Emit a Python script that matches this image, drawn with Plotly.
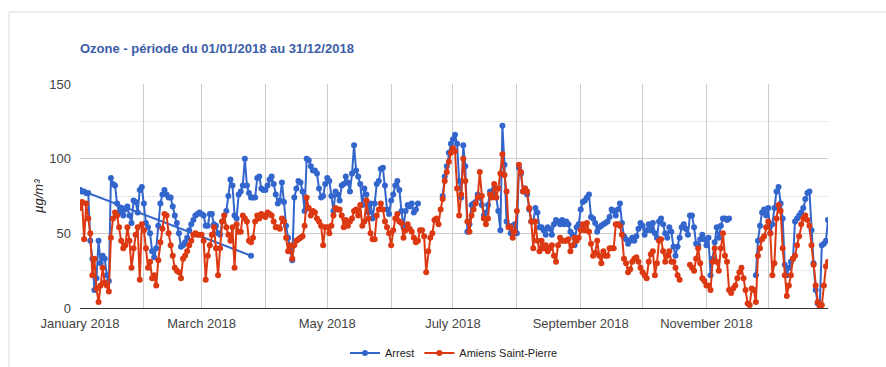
import pandas as pd
import plotly.graph_objects as go

# Daily ozone concentrations (µg/m³), 2018, one list per month
arrest_jan = [79, 78, 78, 77, 77, 45, 33, 12, 20, 45, 30, 35, 33, 22, 18, 87, 83, 82, 70, 64,
              67, 62, 66, 68, 62, 57, 72, 71, 64, 79, 81]
arrest_feb = [70, 57, 54, 50, 38, 34, 40, 55, 70, 76, 79, 76, 74, 74, 68, 62, 57, 50, 41, 42,
              44, 47, 52, 56, 59, 62, 63, 64]
arrest_mar = [63, 62, 55, 55, 63, 63, 56, 55, 50, 49, 58, 62, 65, 75, 86, 82, 62, 60, 76, 78,
              82, 100, 82, 77, 74, 74, 74, 87, 88, 80, 79]
arrest_apr = [79, 82, 86, 88, 83, 76, 70, 72, 84, 71, 55, 47, 38, 32, 74, 80, 85, 84, 78, 65,
              100, 99, 95, 92, 92, 90, 80, 74, 75, 83]
arrest_may = [87, 85, 75, 65, 78, 76, 72, 82, 83, 88, 84, 78, 90, 109, 92, 88, 83, 69, 80, 76,
              64, 70, 60, 70, 83, 85, 93, 94, 82, 66, 63]
arrest_jun = [72, 76, 82, 85, 79, 65, 54, 65, 69, 68, 70, 64, 66, 70] + [None] * 11 + \
             [75, 88, 95, 104, 110]
arrest_jul = [113, 116, 110, 85, 74, 109, 95, 51, 56, 69, 70, 71, 76, 74, 69, 62, 64, 69, 78, 75,
              80, 74, 65, 52, 122, 96, 58, 55, 50, 55, 56]
arrest_aug = [50, 94, 90, 78, 80, 76, 66, 58, 58, 67, 64, 54, 54, 52, 49, 54, 53, 49, 56, 59,
              58, 56, 59, 56, 58, 56, 51, 49, 42, 54, 56]
arrest_sep = [66, 71, 72, 74, 76, 61, 60, 57, 51, 54, 55, 56, 57, 58, 61, 66, 65, 62, 66, 70,
              57, 48, 46, 43, 45, 47, 45, 48, 53, 57]
arrest_oct = [55, 49, 52, 56, 52, 57, 50, 47, 58, 60, 56, 50, 47, 54, 51, 41, 35, 41, 47, 54,
              56, 53, 49, 62, 62, 54, 43, 42, 46, 49, 46]
arrest_nov = [42, 47, 22, 33, 44, 54, 47, 55, 60, 60, 59, 60] + [None] * 12 + \
             [22, 45, 55, 64, 66, 62]
arrest_dec = [67, 50, 56, 67, 78, 81, 70, 60, 29, 22, 27, 31, 33, 58, 60, 62, 64, 67, 73, 77,
              78, 52, 30, 12, 3, 2, 42, 43, 45, 59]

amiens_jan = [67, 71, 46, 70, 60, 50, 22, 33, 13, 4, 15, 27, 17, 15, 11, 47, 60, 64, 62, 54,
              45, 40, 42, 54, 45, 27, 40, 49, 54, 19, 56]
amiens_feb = [52, 40, 27, 31, 20, 22, 15, 32, 44, 53, 63, 62, 50, 42, 35, 27, 25, 24, 20, 33,
              35, 38, 42, 45, 49, 50, 49, 49]
amiens_mar = [49, 45, 19, 35, 42, 49, 54, 40, 22, 40, 58, 62, 54, 49, 45, 54, 27, 56, 51, 51,
              62, 60, 58, 45, 44, 47, 58, 62, 60, 63, 62]
amiens_apr = [61, 64, 63, 62, 58, 54, 54, 53, 60, 58, 47, 38, 42, 33, 42, 45, 46, 47, 48, 55,
              74, 67, 62, 65, 64, 60, 58, 55, 42, 54]
amiens_may = [54, 50, 55, 62, 67, 66, 66, 62, 54, 59, 55, 58, 60, 65, 66, 62, 69, 55, 58, 72,
              60, 50, 46, 46, 62, 66, 70, 66, 58, 54, 50]
amiens_jun = [42, 52, 60, 63, 58, 57, 47, 52, 56, 53, 51, 47, 44, 45, 52, 52, 48, 24, 38, 47,
              50, 59, 60, 56, 66, 73, 85, 91, 98, 104]
amiens_jul = [107, 105, 80, 62, 76, 100, 85, 58, 51, 62, 66, 70, 74, 91, 75, 60, 56, 60, 76, 74,
              83, 74, 80, 90, 103, 89, 78, 54, 54, 47, 51]
amiens_aug = [65, 96, 91, 78, 80, 78, 67, 58, 40, 58, 45, 38, 45, 40, 42, 38, 40, 42, 35, 31,
              42, 47, 45, 45, 45, 46, 38, 42, 47, 45, 47]
amiens_sep = [52, 56, 52, 57, 51, 43, 35, 37, 45, 35, 30, 38, 35, 35, 40, 40, 40, 56, 56, 55,
              49, 33, 30, 24, 26, 31, 33, 34, 31, 27]
amiens_oct = [24, 22, 20, 31, 36, 38, 22, 30, 45, 46, 38, 31, 35, 38, 31, 31, 27, 22, 19] + \
             [None] * 4 + [29, 27, 25, 33, 40, 30, 20, 18]
amiens_nov = [15, 15, 12, 31, 40, 31, 25, 40, 50, 35, 31, 12, 10, 13, 15, 20, 24, 27, 20, 12,
              3, 2, 13, 12, 4, 35, 40, 46, 48, 54]
amiens_dec = [58, 50, 22, 30, 60, 69, 65, 40, 22, 8, 15, 22, 33, 35, 42, 48, 56, 60, 62, 59,
              55, 42, 29, 15, 4, 1, 2, 15, 28, 31]

# Stray Arrest segment joining the first value of January to a late-March value
arrest_link_dates = ["2018-01-01", "2018-03-25"]
arrest_link_values = [79, 35]

arrest = (arrest_jan + arrest_feb + arrest_mar + arrest_apr + arrest_may + arrest_jun +
          arrest_jul + arrest_aug + arrest_sep + arrest_oct + arrest_nov + arrest_dec)
amiens = (amiens_jan + amiens_feb + amiens_mar + amiens_apr + amiens_may + amiens_jun +
          amiens_jul + amiens_aug + amiens_sep + amiens_oct + amiens_nov + amiens_dec)
dates = pd.date_range("2018-01-01", periods=len(arrest), freq="D")

month_ticks = pd.date_range("2018-01-01", "2018-12-01", freq="MS")
month_labels = ["January 2018", "", "March 2018", "", "May 2018", "", "July 2018", "",
                "September 2018", "", "November 2018", ""]
y_major = [0, 50, 100, 150]
y_minor = [25, 75, 125]

BLUE = "#3366cc"
RED = "#dc3912"
FONT = "Arial, Liberation Sans, sans-serif"

fig = go.Figure()
fig.add_trace(go.Scatter(
    x=arrest_link_dates, y=arrest_link_values, mode="lines+markers", name="Arrest",
    showlegend=False, line=dict(color=BLUE, width=2), marker=dict(size=6, color=BLUE)))
fig.add_trace(go.Scatter(
    x=dates, y=arrest, mode="lines+markers", name="Arrest", connectgaps=False,
    line=dict(color=BLUE, width=2), marker=dict(size=6, color=BLUE)))
fig.add_trace(go.Scatter(
    x=dates, y=amiens, mode="lines+markers", name="Amiens Saint-Pierre", connectgaps=False,
    line=dict(color=RED, width=2), marker=dict(size=6, color=RED)))

fig.update_layout(
    width=886, height=367,
    margin=dict(l=80, r=58, t=84, b=59, autoexpand=False),
    paper_bgcolor="white", plot_bgcolor="white",
    font=dict(family=FONT, size=13, color="#444444"),
    title=dict(text="Ozone - période du 01/01/2018 au 31/12/2018",
               x=80 / 886, xanchor="left", y=1 - 48 / 367, yanchor="middle",
               font=dict(family=FONT, size=13, color="#3b5ca8", weight="bold")),
    xaxis=dict(
        type="date", range=["2018-01-01", "2018-12-30"],
        tickmode="array", tickvals=month_ticks, ticktext=month_labels,
        showgrid=True, gridcolor="#cccccc", gridwidth=1,
        ticks="", ticklabelstandoff=6, zeroline=False, showline=False,
        tickfont=dict(size=13, color="#444444")),
    yaxis=dict(
        range=[0, 150], tickmode="array", tickvals=y_major,
        showgrid=True, gridcolor="#cccccc", gridwidth=1,
        minor=dict(tickmode="array", tickvals=y_minor, showgrid=True,
                   gridcolor="#ebebeb", gridwidth=1),
        zeroline=True, zerolinecolor="#333333", zerolinewidth=1,
        ticks="", ticklabelstandoff=8, showline=False,
        tickfont=dict(size=13, color="#444444")),
    legend=dict(orientation="h", x=0.5, xanchor="center", y=(308 - 353) / 224,
                yanchor="middle", font=dict(size=11, color="#222222"), itemwidth=30,
                bgcolor="rgba(0,0,0,0)"),
    showlegend=True,
)

fig.add_annotation(
    text="<i>µg/m³</i>", xref="paper", yref="paper", x=(38 - 80) / 748, y=0.5,
    textangle=-90, showarrow=False, font=dict(size=13, color="#222222"),
    xanchor="center", yanchor="middle")

# light frame edges along the top and left of the chart
frame_left = (9 - 80) / 748
frame_top = (308 - 12) / 224
fig.add_shape(type="line", xref="paper", yref="paper",
              x0=frame_left, x1=(886 - 80) / 748, y0=frame_top, y1=frame_top,
              line=dict(color="#d9d9d9", width=1), layer="below")
fig.add_shape(type="line", xref="paper", yref="paper",
              x0=frame_left, x1=frame_left, y0=frame_top, y1=(308 - 367) / 224,
              line=dict(color="#d9d9d9", width=1), layer="below")

fig.write_html("out.html")
